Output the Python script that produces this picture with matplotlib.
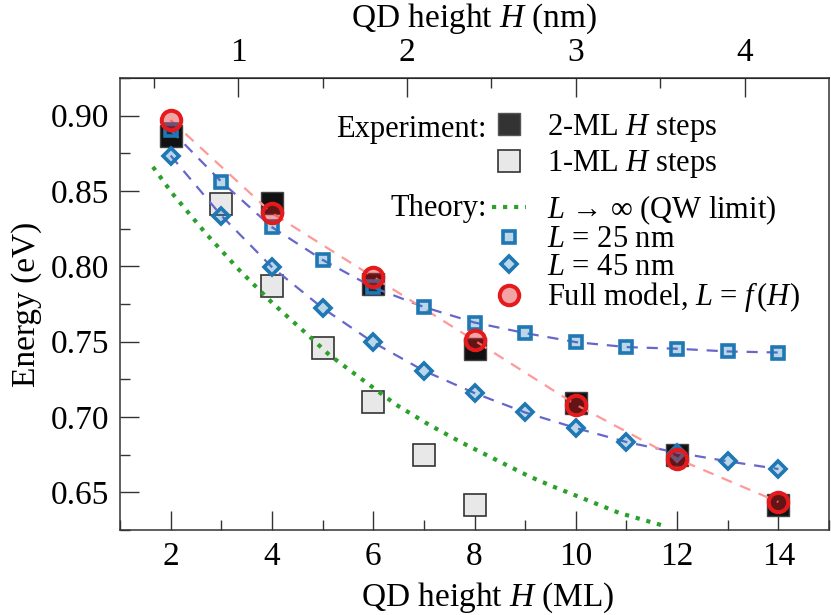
import matplotlib
matplotlib.use('Agg')
import matplotlib.pyplot as plt
from matplotlib.lines import Line2D
from matplotlib.ticker import MultipleLocator, FixedLocator

plt.rcParams['font.family'] = ['Liberation Serif', 'DejaVu Serif']
plt.rcParams['mathtext.fontset'] = 'custom'
plt.rcParams['mathtext.rm'] = 'Liberation Serif'
plt.rcParams['mathtext.it'] = 'Liberation Serif:italic'
plt.rcParams['font.size'] = 24

# Experiment: 2-ML H steps
exp2_h = [2, 4, 6, 8, 10, 12, 14]
exp2_e = [0.8865, 0.8419, 0.788, 0.7453, 0.709, 0.675, 0.6418]

# Experiment: 1-ML H steps
exp1_h = [3, 4, 5, 6, 7, 8]
exp1_e = [0.8413, 0.787, 0.746, 0.7097, 0.6745, 0.6414]

# Theory: QW limit (L -> infinity)
qw_h = [1.65, 2.03, 2.69, 3.35, 4.01, 4.67, 5.13, 5.79, 6.45, 7.1, 7.76, 8.42,
        9.08, 9.54, 10.2, 10.86, 11.78]
qw_e = [0.866, 0.8485, 0.822, 0.7977, 0.7756, 0.7557, 0.7413, 0.7247, 0.7082,
        0.6949, 0.6828, 0.6717, 0.6606, 0.654, 0.6452, 0.6363, 0.6274]

# Theory: L = 25 nm
l25_h = [2, 3, 4, 5, 6, 7, 8, 9, 10, 11, 12, 13, 14]
l25_e = [0.8905, 0.8562, 0.826, 0.8043, 0.786, 0.773, 0.7627, 0.7557, 0.7497,
         0.7464, 0.7453, 0.7435, 0.7428]

# Theory: L = 45 nm
l45_h = [2, 3, 4, 5, 6, 7, 8, 9, 10, 11, 12, 13, 14]
l45_e = [0.8735, 0.8337, 0.7995, 0.7723, 0.7495, 0.7307, 0.7159, 0.703, 0.6927,
         0.6834, 0.6763, 0.6706, 0.6655]

# Theory: full model
full_h = [2, 4, 6, 8, 10, 12, 14]
full_e = [0.897, 0.8353, 0.793, 0.7508, 0.7082, 0.6723, 0.6436]

# top axis ticks (nm)
nm_major = [1, 2, 3, 4]
nm_minor = [0.5, 1.5, 2.5, 3.5]

ML_NM = 0.3  # nm per monolayer

blue = '#1f77b4'
blue_face = (0.12, 0.47, 0.71, 0.3)
red = '#e41a1c'
red_face = (0.89, 0.10, 0.11, 0.4)
dash_blue = '#6666cc'
dash_red = '#ff9999'
green = '#2ca02c'

fig = plt.figure(figsize=(8.31, 6.15), dpi=100)
ax = fig.add_axes([0.1444, 0.1382, 0.8532, 0.735])

ax.plot(exp2_h, exp2_e, 's', ms=16, mfc='#111111', mec='#444444', mew=1.0, zorder=2)
ax.plot(exp1_h, exp1_e, 's', ms=16.5, mfc='#e8e8e8', mec='#333333', mew=1.2, zorder=2)
ax.plot(qw_h, qw_e, ':', color=green, lw=3, zorder=3)
ax.plot(l25_h, l25_e, '--', color=dash_blue, lw=1.6, dashes=(5, 4), zorder=3)
ax.plot(l45_h, l45_e, '--', color=dash_blue, lw=1.6, dashes=(5, 4), zorder=3)
ax.plot(full_h, full_e, '--', color=dash_red, lw=1.6, dashes=(5, 4), zorder=3)
ax.plot(l25_h, l25_e, 's', ms=9, mfc=blue_face, mec=blue, mew=2.6, zorder=4)
ax.plot(l45_h, l45_e, 'D', ms=8.4, mfc=blue_face, mec=blue, mew=2.6, zorder=4)
ax.plot(full_h, full_e, 'o', ms=14, mfc=red_face, mec=red, mew=2.9, zorder=5)

ax.set_xlim(1.0, 15.0)
ax.set_ylim(0.625, 0.925)
ax.xaxis.set_major_locator(MultipleLocator(2))
ax.xaxis.set_minor_locator(MultipleLocator(1))
ax.yaxis.set_minor_locator(MultipleLocator(0.025))
ax.set_yticks([0.65, 0.70, 0.75, 0.80, 0.85, 0.90])
ax.set_yticklabels(['0.65', '0.70', '0.75', '0.80', '0.85', '0.90'])
ax.tick_params(which='both', direction='in', top=False, right=False, width=1.0, color='#333333')
ax.tick_params(which='major', length=14, pad=8)
ax.tick_params(which='minor', length=7.5)
for s in ax.spines.values():
    s.set_linewidth(1.1)
    s.set_color('#333333')

ax.set_xlabel('QD height $H$ (ML)')
ax.xaxis.set_label_coords(0.519, -0.112)
ax.set_ylabel('Energy (eV)', labelpad=6)

top = ax.secondary_xaxis('top', functions=(lambda x: x * ML_NM, lambda x: x / ML_NM))
top.xaxis.set_major_locator(FixedLocator(nm_major))
top.xaxis.set_minor_locator(FixedLocator(nm_minor))
top.tick_params(which='both', direction='in', width=1.0, color='#333333')
top.tick_params(which='major', length=14, pad=7)
top.tick_params(which='minor', length=7.5)
top.set_xlabel('QD height $H$ (nm)', labelpad=8)

# legends
h_exp = [Line2D([], [], ls='', marker='s', ms=16, mfc='#333333', mec='#555555', mew=1.0),
         Line2D([], [], ls='', marker='s', ms=16, mfc='#e8e8e8', mec='#333333', mew=1.2)]
leg1 = ax.legend(h_exp, ['2-ML $H$ steps', '1-ML $H$ steps'], loc='upper left',
                 bbox_to_anchor=(0.525, 0.925), frameon=False, borderpad=0, borderaxespad=0,
                 handlelength=1.1, handletextpad=0.7, labelspacing=0.15, fontsize=22)
ax.add_artist(leg1)

h_th = [Line2D([], [], ls=':', color=green, lw=3),
        Line2D([], [], ls='', marker='s', ms=9, mfc=blue_face, mec=blue, mew=2.6),
        Line2D([], [], ls='', marker='D', ms=8.4, mfc=blue_face, mec=blue, mew=2.6),
        Line2D([], [], ls='', marker='o', ms=14, mfc=red_face, mec=red, mew=2.9)]
ax.legend(h_th, ['$L$ \u2192 \u221e (QW limit)', '$L$ = 25 nm', '$L$ = 45 nm',
                 'Full model, $L$ = $f\\,(H)$'], loc='upper left',
          bbox_to_anchor=(0.525, 0.745), frameon=False, borderpad=0, borderaxespad=0,
          handlelength=1.1, handletextpad=0.7, labelspacing=-0.05, fontsize=22)

ax.text(0.5176, 0.885, 'Experiment:', transform=ax.transAxes, ha='right', va='center', fontsize=22)
ax.text(0.5176, 0.712, 'Theory:', transform=ax.transAxes, ha='right', va='center', fontsize=22)

fig.savefig('out.png', dpi=100)
